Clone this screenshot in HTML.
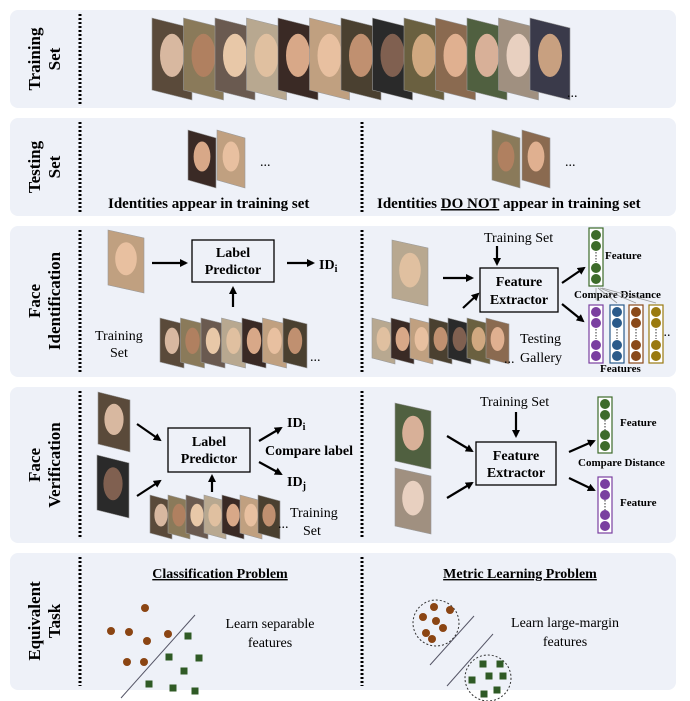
<!DOCTYPE html>
<html><head><meta charset="utf-8"><style>
html,body{margin:0;padding:0;background:#fff;width:690px;height:701px;overflow:hidden}
svg{display:block;font-family:"Liberation Serif",serif}
.b{font-weight:bold}
</style></head><body>
<svg id="s" width="690" height="701" viewBox="0 0 690 701" xmlns="http://www.w3.org/2000/svg">
<defs>
<marker id="ar" markerWidth="8" markerHeight="8" refX="6" refY="4" orient="auto" markerUnits="userSpaceOnUse"><path d="M0,0 L8,4 L0,8 z" fill="#000"/></marker>
</defs>
<g fill="#eef1f8">
<rect x="10" y="10" width="666" height="98" rx="8"/>
<rect x="10" y="118" width="666" height="98" rx="8"/>
<rect x="10" y="226" width="666" height="151" rx="8"/>
<rect x="10" y="387" width="666" height="156" rx="8"/>
<rect x="10" y="553" width="666" height="137" rx="8"/>
</g>
<g stroke="#000" stroke-width="3" stroke-dasharray="2,2">
<line x1="80" y1="14" x2="80" y2="104"/><line x1="80" y1="122" x2="80" y2="212"/>
<line x1="80" y1="230" x2="80" y2="373"/><line x1="80" y1="391" x2="80" y2="539"/>
<line x1="80" y1="557" x2="80" y2="686"/>
<line x1="362" y1="122" x2="362" y2="212"/><line x1="362" y1="230" x2="362" y2="373"/>
<line x1="362" y1="391" x2="362" y2="539"/><line x1="362" y1="557" x2="362" y2="686"/>
</g>
<g class="b" font-size="17" text-anchor="middle">
<text transform="translate(40,59) rotate(-90)">Training</text><text transform="translate(60,59) rotate(-90)">Set</text>
<text transform="translate(40,167) rotate(-90)">Testing</text><text transform="translate(60,167) rotate(-90)">Set</text>
<text transform="translate(40,301) rotate(-90)">Face</text><text transform="translate(60,301) rotate(-90)">Identification</text>
<text transform="translate(40,465) rotate(-90)">Face</text><text transform="translate(60,465) rotate(-90)">Verification</text>
<text transform="translate(40,621) rotate(-90)">Equivalent</text><text transform="translate(60,621) rotate(-90)">Task</text>
</g>
<g id="faces"></g>
<g font-size="14">
<text x="567" y="97">...</text>
<text x="260" y="166">...</text>
<text x="565" y="166">...</text>
<text class="b" x="108" y="208" font-size="15">Identities appear in training set</text>
<text class="b" x="377" y="208" font-size="15">Identities <tspan text-decoration="underline">DO NOT</tspan> appear in training set</text>
</g>
<g fill="none" stroke="#000" stroke-width="1.3">
<rect x="192" y="240" width="82" height="42"/>
<rect x="480" y="268" width="78" height="44"/>
<rect x="168" y="428" width="82" height="44"/>
<rect x="476" y="442" width="80" height="43"/>
</g>
<g class="b" font-size="14" text-anchor="middle">
<text x="233" y="257">Label</text><text x="233" y="274">Predictor</text>
<text x="519" y="286">Feature</text><text x="519" y="304">Extractor</text>
<text x="209" y="446">Label</text><text x="209" y="463">Predictor</text>
<text x="516" y="460">Feature</text><text x="516" y="477">Extractor</text>
</g>
<g stroke="#000" stroke-width="2.2" marker-end="url(#ar)">
<line x1="152" y1="263" x2="186" y2="263"/><line x1="287" y1="263" x2="313" y2="263"/>
<line x1="233" y1="307" x2="233" y2="288"/>
<line x1="443" y1="278" x2="472" y2="278"/><line x1="497" y1="246" x2="497" y2="264"/>
<line x1="463" y1="308" x2="478" y2="294"/>
<line x1="562" y1="283" x2="584" y2="268"/><line x1="562" y1="304" x2="583" y2="321"/>
<line x1="137" y1="424" x2="160" y2="440"/><line x1="137" y1="496" x2="160" y2="481"/>
<line x1="259" y1="441" x2="281" y2="428"/><line x1="259" y1="462" x2="281" y2="474"/>
<line x1="212" y1="492" x2="212" y2="476"/>
<line x1="447" y1="436" x2="472" y2="451"/><line x1="447" y1="498" x2="472" y2="483"/>
<line x1="516" y1="412" x2="516" y2="436"/>
<line x1="569" y1="452" x2="594" y2="441"/><line x1="569" y1="478" x2="594" y2="490"/>
</g>
<g font-size="14">
<text class="b" x="319" y="269">ID<tspan font-size="10" dy="3">i</tspan></text>
<text x="95" y="340">Training</text><text x="110" y="357">Set</text>
<text x="310" y="361">...</text>
<text x="484" y="242">Training Set</text>
<text x="504" y="363">...</text>
<text x="520" y="343">Testing</text><text x="520" y="362">Gallery</text>
<text class="b" x="287" y="427">ID<tspan font-size="10" dy="3">i</tspan></text>
<text class="b" x="265" y="455">Compare label</text>
<text class="b" x="287" y="486">ID<tspan font-size="10" dy="3">j</tspan></text>
<text x="278" y="528">...</text>
<text x="290" y="517">Training</text><text x="303" y="535">Set</text>
<text x="480" y="406">Training Set</text>
<text x="660" y="336">...</text>
</g>
<g class="b" font-size="11">
<text x="605" y="259">Feature</text>
<text x="574" y="298">Compare Distance</text>
<text x="600" y="372">Features</text>
<text x="620" y="426">Feature</text>
<text x="578" y="466">Compare Distance</text>
<text x="620" y="506">Feature</text>
</g>
<g id="cols"></g>
<g stroke="#999" stroke-width="0.8" fill="none">
<line x1="596" y1="288" x2="596" y2="300"/><line x1="598" y1="288" x2="617" y2="303"/>
<line x1="600" y1="288" x2="636" y2="303"/><line x1="602" y1="288" x2="656" y2="303"/>
</g>
<g font-size="14" class="b" text-anchor="middle" text-decoration="underline">
<text x="220" y="578">Classification Problem</text>
<text x="520" y="578">Metric Learning Problem</text>
</g>
<g font-size="14" text-anchor="middle">
<text x="270" y="628">Learn separable</text><text x="270" y="647">features</text>
<text x="565" y="627">Learn large-margin</text><text x="565" y="646">features</text>
</g>
<g stroke="#556" stroke-width="1">
<line x1="121" y1="698" x2="195" y2="615"/>
<line x1="430" y1="665" x2="474" y2="616"/><line x1="447" y1="686" x2="493" y2="634"/>
</g>
<g fill="none" stroke="#333" stroke-dasharray="2,2">
<circle cx="436" cy="623" r="23"/><circle cx="488" cy="678" r="23"/>
</g>
<g id="pts"></g>
</svg>
<script>
var NS="http://www.w3.org/2000/svg";
function el(p,t,a){var e=document.createElementNS(NS,t);for(var k in a)e.setAttribute(k,a[k]);document.getElementById(p).appendChild(e);return e;}
var bgs=["#5a4a3a","#8a7a5a","#6a5a50","#b8a890","#3a2a25","#c0a080","#4a4030","#2a2a2a","#6a6040","#8a6a50","#506040","#a09080","#3a3a4a"];
var sk=["#d8b8a0","#b08060","#e8c8a8","#e0c0a0","#d8a888","#e8c0a0","#c09070","#806050","#d0a880","#e0b090","#d8b098","#e8d0c0","#c8a080"];
function face(x,y,w,h,d,i){
 el("faces","polygon",{points:x+","+y+" "+(x+w)+","+(y+d)+" "+(x+w)+","+(y+h+d)+" "+x+","+(y+h),fill:bgs[i%13],stroke:"#999","stroke-width":"0.6"});
 el("faces","ellipse",{cx:x+w*0.5,cy:y+d/2+h*0.45,rx:w*0.3,ry:h*0.3,fill:sk[i%13]});
}
for(var i=0;i<13;i++)face(152+i*31.5,18,40,72,10,i);
face(188,130,28,50,8,4);face(217,130,28,50,8,5);
face(492,130,28,50,8,1);face(522,130,28,50,8,9);
face(108,230,36,55,8,5);
for(var i=0;i<7;i++)face(160+i*20.5,318,24,44,6,i);
face(392,240,36,58,8,3);
for(var i=0;i<7;i++)face(372+i*19,318,23,40,6,i+3);
face(98,392,32,52,8,0);face(97,455,32,55,8,7);
for(var i=0;i<7;i++)face(150+i*18,495,22,38,6,i);
face(395,403,36,58,8,10);face(395,468,36,58,8,11);
function col(x,y,h,c){el("cols","rect",{x:x-7,y:y,width:14,height:h,fill:"#fff",stroke:c,"stroke-width":"1.2"});
 var n=[y+7,y+18,y+h-18,y+h-7];n.forEach(function(v){el("cols","circle",{cx:x,cy:v,r:5,fill:c});});
 el("cols","line",{x1:x,y1:y+h/2-5,x2:x,y2:y+h/2+5,stroke:"#333","stroke-dasharray":"1.5,1.5"});}
col(596,228,58,"#3d6b2a");col(596,305,58,"#7a3fa0");col(617,305,58,"#2a5a8a");col(636,305,58,"#8a4a1a");col(656,305,58,"#9a7a10");
col(605,397,56,"#3d6b2a");col(605,477,56,"#7a3fa0");
var br="#8b4513",gr="#2f5a25";
[[111,631],[129,632],[145,608],[147,641],[168,634],[127,662],[144,662],[423,617],[434,607],[450,610],[426,633],[436,621],[443,628],[432,639]].forEach(function(p){el("pts","circle",{cx:p[0],cy:p[1],r:4,fill:br});});
[[188,636],[169,657],[199,658],[184,671],[149,684],[173,688],[195,691],[483,664],[500,664],[472,680],[489,676],[503,676],[484,694],[497,690]].forEach(function(p){el("pts","rect",{x:p[0]-3.5,y:p[1]-3.5,width:7,height:7,fill:gr});});
</script>
</body></html>
